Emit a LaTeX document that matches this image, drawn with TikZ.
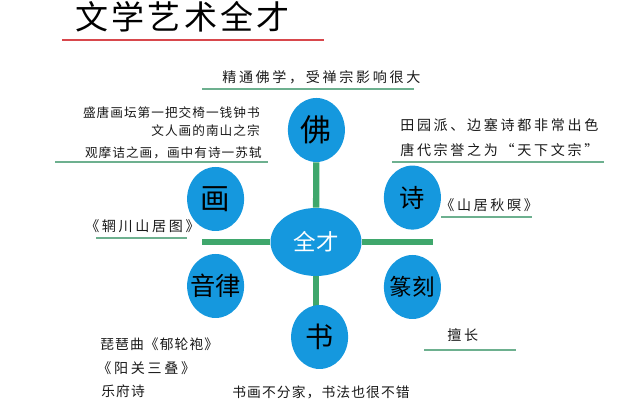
\documentclass[tikz,border=0pt]{standalone}
\usepackage{fontspec}
\setmainfont{Noto Sans CJK SC}
\newfontfamily\widefont[LetterSpace=19]{Noto Sans CJK SC}
\newfontfamily\tightfont[LetterSpace=8]{Noto Sans CJK SC}
\newfontfamily\titlefont[LetterSpace=10]{Noto Sans CJK SC}
\usepackage{xcolor}
\usetikzlibrary{shapes.geometric, backgrounds}
\definecolor{bubbleblue}{HTML}{1598DE}
\definecolor{spokegreen}{HTML}{3FA76C}
\definecolor{rulegreen}{HTML}{6DB08F}
\definecolor{titlered}{HTML}{D8474C}
\tikzset{
    bubble/.style={ellipse, fill=bubbleblue, inner sep=-10pt, minimum width=1.425cm, minimum height=1.6cm, text=black},
    spoke/.style={spokegreen, line width=4.5pt},
    underrule/.style={rulegreen, line width=1.5pt},
    widenote/.style={inner sep=0pt, text=black!90, font=\widefont\fontsize{10}{12}\selectfont},
    midnote/.style={inner sep=0pt, text=black!90, font=\tightfont\fontsize{9.8}{12}\selectfont},
    tightnote/.style={inner sep=0pt, text=black!90, font=\tightfont\fontsize{9}{11}\selectfont}
}
\begin{document}
\begin{tikzpicture}
        \useasboundingbox (0,0) rectangle (16,10);
        % title
        \node[anchor=west, inner sep=0pt, font=\titlefont\fontsize{23.5}{27}\selectfont] (title) at (1.875,9.575) {文学艺术全才};
        \draw[titlered, line width=2pt] (1.55,9) -- (8.1,9);
        % centre and the six topics
        \node[bubble, minimum width=2.275cm, minimum height=1.7cm, text=white, font=\fontsize{16}{18}\selectfont] (centre) at (7.9,3.95) {全才};
        \node[bubble, font=\fontsize{22}{24}\selectfont] (fo) at (7.91,6.75) {佛};
        \node[bubble, font=\fontsize{21}{23}\selectfont] (hua) at (5.39,5.025) {画};
        \node[bubble, font=\fontsize{18}{20}\selectfont] (shi) at (10.31,5.06) {诗};
        \node[bubble, font=\fontsize{18}{20}\selectfont] (yinlu) at (5.39,2.85) {音律};
        \node[bubble, font=\fontsize{16}{18}\selectfont] (zhuanke) at (10.31,2.825) {篆刻};
        \node[bubble, font=\fontsize{20}{22}\selectfont] (shu) at (7.99,1.575) {书};
        \coordinate (barleft) at (5.05,3.95);
        \coordinate (barright) at (10.825,3.95);
        \begin{scope}[on background layer]
            \draw[spoke] (centre) -- (barleft);
            \draw[spoke] (centre) -- (barright);
            \draw[spoke] (centre) -- (fo);
            \draw[spoke] (centre) -- (centre |- shu);
        \end{scope}
        % top
        \node[widenote, anchor=west] (fonote) at (5.55,8.075) {精通佛学，受禅宗影响很大};
        \draw[underrule] (5.05,7.775) -- (10.35,7.775);
        % left
        \node[tightnote, anchor=east] (huanotea) at (6.5,7.175) {盛唐画坛第一把交椅一钱钟书};
        \node[tightnote, anchor=east] (huanoteb) at (6.5,6.725) {文人画的南山之宗};
        \node[tightnote, anchor=east] (huanotec) at (6.55,6.175) {观摩诘之画，画中有诗一苏轼};
        \draw[underrule] (1.375,5.95) -- (6.7,5.95);
        \node[widenote, anchor=west] (huawork) at (2.125,4.35) {《辋川山居图》};
        \draw[underrule] (2.4,4.05) -- (4.675,4.05);
        % right
        \node[widenote, anchor=west] (shinotea) at (10,6.875) {田园派、边塞诗都非常出色};
        \node[widenote, anchor=west] (shinoteb) at (10,6.25) {唐代宗誉之为“天下文宗”};
        \draw[underrule] (9.8,5.95) -- (15.1,5.95);
        \node[widenote, anchor=west] (shiwork) at (11,4.875) {《山居秋暝》};
        \draw[underrule] (11.025,4.575) -- (13.3,4.575);
        \node[widenote, anchor=west] (zhuankenote) at (11.175,1.625) {擅长};
        \draw[underrule] (10.6,1.25) -- (12.9,1.25);
        % bottom
        \node[midnote, anchor=west] (yinlua) at (2.5,1.4) {琵琶曲《郁轮袍》};
        \node[widenote, anchor=west] (yinlub) at (2.43,0.8) {《阳关三叠》};
        \node[midnote, anchor=west] (yinluc) at (2.525,0.225) {乐府诗};
        \node[midnote, anchor=west] (shunote) at (5.8,0.2) {书画不分家，书法也很不错};
\end{tikzpicture}
\end{document}
